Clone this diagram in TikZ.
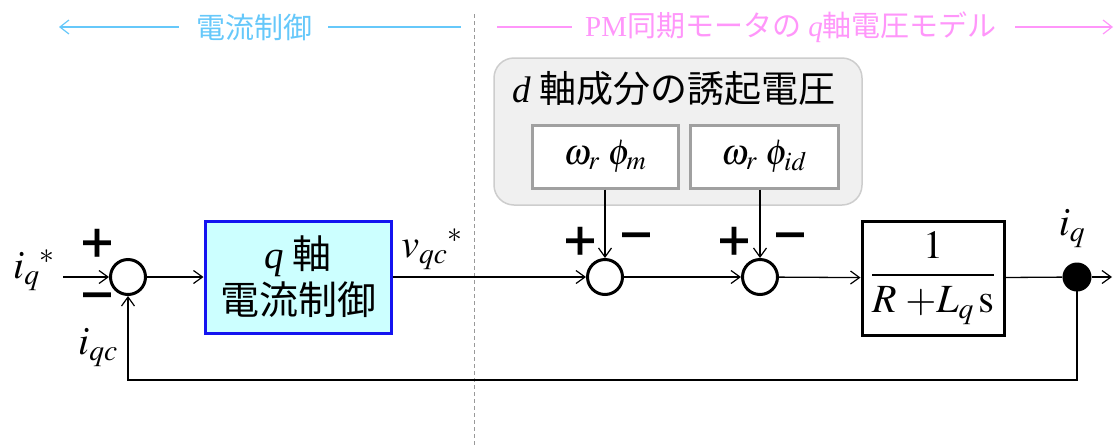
\documentclass[tikz,border=0pt]{standalone}
\usepackage{mathptmx}
\usepackage[no-math]{fontspec}
\setmainfont{Liberation Serif}
\newfontfamily\jp{Noto Sans CJK JP}
\usetikzlibrary{arrows.meta}
\definecolor{hdrblue}{RGB}{102,200,250}
\definecolor{hdrpink}{RGB}{255,150,250}
\definecolor{ctlfill}{RGB}{204,255,255}
\definecolor{ctlblue}{RGB}{20,20,240}
\definecolor{grpfill}{RGB}{240,240,240}
\definecolor{grpline}{RGB}{205,205,205}
\definecolor{boxgray}{RGB}{160,160,160}
\tikzset{
  tip/.tip={Straight Barb[length=9pt,width=13pt,line width=1.2pt]},
  conn/.style={line width=1.3pt,-tip},
  wire/.style={line width=1.3pt},
  sumc/.style={circle,draw,line width=3pt,minimum size=35pt,inner sep=0pt,fill=white},
  dotc/.style={circle,fill=black,minimum size=29pt,inner sep=0pt},
  sign/.style={font=\jp\bfseries\fontsize{40}{40}\selectfont,inner sep=0pt},
  lbl/.style={font=\fontsize{40}{44}\selectfont,inner sep=0pt},
  hdr/.style={line width=1.3pt},
}
\begin{document}
\begin{tikzpicture}[x=1pt,y=-1pt]
\useasboundingbox (0,0) rectangle (1115,445);
% divider
\draw[gray!80,dashed,line width=1pt,dash pattern=on 4pt off 3pt] (474,14) coordinate (dvt) -- (474,445) coordinate (dvb);
% headers
\node[text=hdrblue,font=\jp\fontsize{29}{32}\selectfont,inner sep=0pt] (hb) at (254,27) {電流制御};
\coordinate (hbl) at (59,27);
\coordinate (hbr) at (461,27);
\draw[hdr,hdrblue,-{Straight Barb[length=9pt,width=14pt,line width=1.2pt]}] ([xshift=-17pt]hb.west) -- (hbl);
\draw[hdr,hdrblue] ([xshift=16pt]hb.east) -- (hbr);
\node[text=hdrpink,font=\fontsize{29}{32}\selectfont,inner sep=0pt] (hp) at (791,27) {PM{\jp 同期モータの} \textit{q}{\jp 軸電圧モデル}};
\coordinate (hpl) at (497,27);
\coordinate (hpr) at (1113,27);
\draw[hdr,hdrpink] (hpl) -- ([xshift=-13pt]hp.west);
\draw[hdr,hdrpink,-{Straight Barb[length=9pt,width=14pt,line width=1.2pt]}] ([xshift=18pt]hp.east) -- (hpr);
% d-axis group
\node[draw=grpline,fill=grpfill,line width=1.5pt,rounded corners=20pt,minimum width=368pt,minimum height=147pt] (grp) at (678,131.5) {};
\node[font=\fontsize{37}{40}\selectfont,inner sep=0pt] (gt) at (674,89) {\textit{d} {\jp 軸成分の誘起電圧}};
\node[draw=boxgray,fill=white,line width=3pt,minimum width=146pt,minimum height=63pt,font=\fontsize{36}{40}\selectfont] (b1) at (605,156.5) {$\omega_r\;\phi_m$};
\node[draw=boxgray,fill=white,line width=3pt,minimum width=148pt,minimum height=63pt,font=\fontsize{36}{40}\selectfont] (b2) at (764,156.5) {$\omega_r\;\phi_{id}$};
% main row
\node[lbl] (iqs) at (34,270) {$i_q{}^{*}$};
\coordinate (in) at (63,277);
\node[sumc] (s1) at (128,277) {};
\node[sign] (p1) at (97,244) {＋};
\node[sign] (m1) at (97,302) {－};
\node[draw=ctlblue,fill=ctlfill,line width=3pt,minimum width=186pt,minimum height=112pt,align=center,font=\jp\fontsize{39}{46}\selectfont] (ctl) at (298,277) {{\rmfamily\itshape q} 軸\\電流制御};
\node[lbl] (vqc) at (432,249) {$v_{qc}{}^{*}$};
\node[sumc] (s2) at (605,277) {};
\node[sign] (p2) at (580,242) {＋};
\node[sign] (m2) at (636,242) {－};
\node[sumc] (s3) at (760,277) {};
\node[sign] (p3) at (734,242) {＋};
\node[sign] (m3) at (790,242) {－};
\node[draw,line width=3pt,minimum width=142pt,minimum height=114pt,font=\fontsize{40}{44}\selectfont] (tf) at (933,278) {$\displaystyle\frac{1}{R\;{+}L_q\,\mathrm{s}}$};
\node[dotc] (dot) at (1077,277) {};
\node[lbl] (iq) at (1072,229) {$i_q$};
\coordinate (out) at (1112,277);
\coordinate (fb) at (1077,380);
\node[lbl] (iqc) at (98,348) {$i_{qc}$};
% connectors
\draw[conn] (in) -- (s1);
\draw[conn] (s1) -- (ctl);
\draw[conn] (ctl) -- (s2);
\draw[conn] (s2) -- (s3);
\draw[conn] (s3) -- (tf);
\draw[wire] (tf) -- (dot);
\draw[conn] (dot) -- (out);
\draw[conn] (dot.center) -- (fb) -| (s1);
\draw[conn] (b1.south -| s2) -- (s2);
\draw[conn] (b2.south -| s3) -- (s3);
\end{tikzpicture}
\end{document}
